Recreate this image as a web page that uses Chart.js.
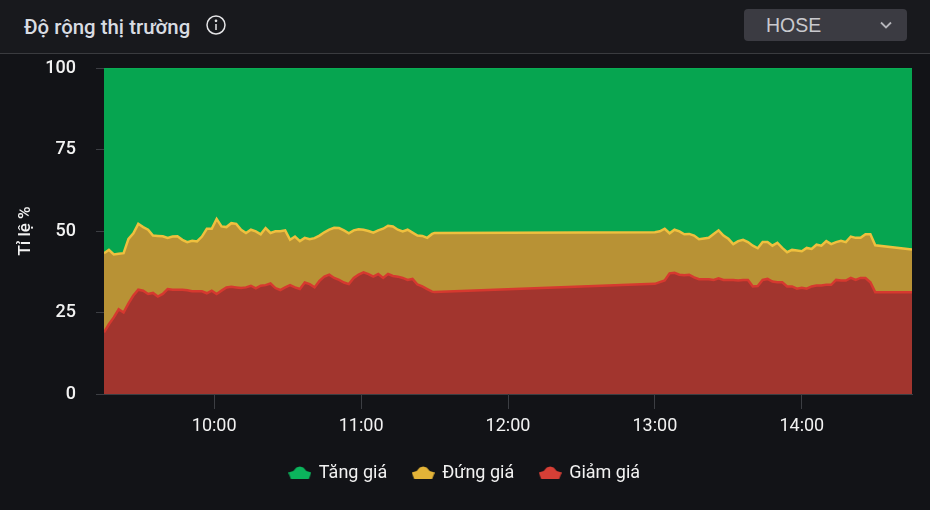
<!DOCTYPE html>
<html lang="vi">
<head>
<meta charset="utf-8">
<title>Độ rộng thị trường</title>
<script src="https://cdn.jsdelivr.net/npm/chart.js@4/dist/chart.umd.min.js"></script>
<style>
  html, body { margin: 0; padding: 0; background: #121317; overflow: hidden; }
  #wrap { position: relative; width: 930px; height: 510px; font-family: Roboto, sans-serif; }
  #head { position: absolute; left: 0; top: 0; width: 930px; height: 53px; background: #18191d; border-bottom: 1px solid #3a3b3f; }
  #title { position: absolute; left: 24px; top: 15px; font-size: 20.4px; font-weight: 500; line-height: 24px; color: #d8dce2; }
  #info { position: absolute; left: 205px; top: 14px; }
  #select { position: absolute; left: 744px; top: 9px; width: 163px; height: 32px; background: #3b3b42; border-radius: 4px; }
  #select span { position: absolute; left: 22px; top: 4px; font: 19.5px/24px "Liberation Sans", sans-serif; color: #c9c9ce; }
  #select svg { position: absolute; left: 135px; top: 12px; }
  #canvasBox { position: absolute; left: 0; top: 54px; width: 930px; height: 456px; }
</style>
</head>
<body>
<div id="wrap">
  <div id="head">
    <div id="title">Độ rộng thị trường</div>
    <svg id="info" width="22" height="22" viewBox="0 0 22 22" fill="none" stroke="#e4e4e6" stroke-width="1.5">
      <circle cx="11" cy="11" r="9"/>
      <path d="M11 10v6"/>
      <circle cx="11" cy="6.8" r="0.6" fill="#e4e4e6"/>
    </svg>
    <div id="select">
      <span>HOSE</span>
      <svg width="14" height="9" viewBox="0 0 14 9" fill="none" stroke="#b5b5ba" stroke-width="1.8"><path d="M2 1.5l5 5 5-5"/></svg>
    </div>
  </div>
  <div id="canvasBox"><canvas id="breadthChart"></canvas></div>
</div>
<script>
const times = [
  '09:15','09:17','09:19','09:21','09:23','09:25','09:27','09:29','09:31','09:33',
  '09:35','09:37','09:39','09:41','09:43','09:45','09:47','09:49','09:51','09:53',
  '09:55','09:57','09:59','10:01','10:03','10:05','10:07','10:09','10:11','10:13',
  '10:15','10:17','10:19','10:21','10:23','10:25','10:27','10:29','10:31','10:33',
  '10:35','10:37','10:39','10:41','10:43','10:45','10:47','10:49','10:51','10:53',
  '10:55','10:57','10:59','11:01','11:03','11:05','11:07','11:09','11:11','11:13',
  '11:15','11:17','11:19','11:21','11:23','11:25','11:27','11:29','11:30',
  '13:00','13:02','13:04','13:06','13:08','13:10','13:12','13:14','13:16','13:18',
  '13:20','13:22','13:24','13:26','13:28','13:30','13:32','13:34','13:36','13:38',
  '13:40','13:42','13:44','13:46','13:48','13:50','13:52','13:54','13:56','13:58',
  '14:00','14:02','14:04','14:06','14:08','14:10','14:12','14:14','14:16','14:18',
  '14:20','14:22','14:24','14:26','14:28','14:30','14:45'
];
const giamGia = [
  18.9,21.4,23.5,26.0,25.0,27.8,30.2,32.0,31.7,30.7,
  31.0,29.9,30.7,32.2,32.0,32.0,32.0,31.8,31.5,31.5,
  31.5,30.9,31.7,30.7,31.7,32.7,32.9,32.7,32.5,32.7,
  33.2,32.4,33.2,33.4,33.9,32.5,31.9,32.7,33.4,32.7,
  32.2,34.2,33.7,32.7,34.7,36.0,36.6,35.6,35.0,34.2,
  33.7,35.6,36.6,37.3,36.8,36.0,36.8,35.6,36.8,36.2,
  36.0,35.6,35.0,35.3,33.6,33.0,32.2,31.4,31.3,
  33.8,34.3,34.8,37.0,37.2,36.6,36.4,36.6,35.8,35.2,
  35.2,35.2,35.0,35.5,35.0,35.0,35.0,34.8,35.0,35.0,
  33.0,33.1,35.0,35.3,34.5,34.3,34.3,33.0,33.0,32.3,
  32.6,32.3,33.0,33.3,33.3,33.5,33.5,35.0,34.8,34.8,
  35.6,35.0,35.6,35.6,34.3,31.2,31.2
];
const dungGia = [
  24.3,22.8,19.3,17.0,18.2,19.8,19.1,20.2,19.5,19.7,
  17.6,18.6,17.7,15.7,16.3,16.4,15.3,14.8,15.5,15.3,
  16.8,19.8,19.0,23.0,19.7,18.5,19.5,19.5,17.9,16.7,
  17.2,17.5,15.8,17.5,15.5,17.4,18.0,17.5,13.9,15.6,
  14.7,13.7,13.8,15.1,13.9,13.6,13.8,15.4,15.9,16.0,
  15.6,14.6,13.9,13.1,13.2,13.5,13.4,15.1,14.8,15.2,
  14.4,14.3,15.4,14.2,15.0,15.5,15.7,17.7,18.1,
  15.8,15.6,15.9,12.3,13.2,13.3,12.6,12.5,12.8,12.3,
  12.5,12.7,14.1,14.7,13.6,12.6,11.0,12.1,12.3,11.6,
  12.5,11.6,11.6,11.3,11.0,12.1,10.5,10.5,11.2,11.7,
  11.2,12.5,11.5,12.5,12.2,13.4,12.5,11.6,12.2,11.8,
  12.7,12.9,12.3,13.4,14.7,14.4,13.1
];
const tangGia = [
  56.8,55.8,57.2,57.0,56.8,52.4,50.7,47.8,48.8,49.6,
  51.4,51.5,51.6,52.1,51.7,51.6,52.7,53.4,53.0,53.2,
  51.7,49.3,49.3,46.3,48.6,48.8,47.6,47.8,49.6,50.6,
  49.6,50.1,51.0,49.1,50.6,50.1,50.1,49.8,52.7,51.7,
  53.1,52.1,52.5,52.2,51.4,50.4,49.6,49.0,49.1,49.8,
  50.7,49.8,49.5,49.6,50.0,50.5,49.8,49.3,48.4,48.6,
  49.6,50.1,49.6,50.5,51.4,51.5,52.1,50.9,50.6,
  50.4,50.1,49.3,50.7,49.6,50.1,51.0,50.9,51.4,52.5,
  52.3,52.1,50.9,49.8,51.4,52.4,54.0,53.1,52.7,53.4,
  54.5,55.3,53.4,53.4,54.5,53.6,55.2,56.5,55.8,56.0,
  56.2,55.2,55.5,54.2,54.5,53.1,54.0,53.4,53.0,53.4,
  51.7,52.1,52.1,51.0,51.0,54.4,55.7
];
const xTickLabels = ['10:00', '11:00', '12:00', '13:00', '14:00'];
const yTicks = [0, 25, 50, 75, 100];

const toMinutes = (t) => {
  const [h, m] = t.split(':').map(Number);
  return h * 60 + m;
};
const toLabel = (v) => String(Math.floor(v / 60)).padStart(2, '0') + ':' + String(v % 60).padStart(2, '0');
const toPoints = (values) => values.map((y, i) => ({ x: toMinutes(times[i]), y }));

// legend marker: little house shape with wide eaves
function legendIcon(color) {
  const c = document.createElement('canvas');
  c.width = 23;
  c.height = 14;
  const g = c.getContext('2d');
  g.fillStyle = color;
  g.beginPath();
  g.moveTo(0, 6.5);
  g.lineTo(5, 5);
  g.lineTo(8, 1.5);
  g.lineTo(11.5, 0.5);
  g.lineTo(15, 1.5);
  g.lineTo(18, 5);
  g.lineTo(23, 6.5);
  g.lineTo(20.5, 13);
  g.lineTo(2.5, 13);
  g.closePath();
  g.fill();
  return c;
}

document.addEventListener('DOMContentLoaded', () => {
  Chart.defaults.font.family = "Roboto, sans-serif";
  Chart.defaults.color = '#f2f2f2';

  new Chart(document.getElementById('breadthChart'), {
    type: 'line',
    data: {
      datasets: [{
        label: 'Giảm giá',
        data: toPoints(giamGia),
        borderColor: '#d6392f',
        backgroundColor: '#a2352e',
        pointStyle: legendIcon('#d63f36'),
        fill: 'origin'
      }, {
        label: 'Đứng giá',
        data: toPoints(dungGia),
        borderColor: '#efc03e',
        backgroundColor: '#b89235',
        pointStyle: legendIcon('#e3b338'),
        fill: '-1'
      }, {
        label: 'Tăng giá',
        data: toPoints(tangGia),
        borderColor: '#09ad53',
        backgroundColor: '#06a550',
        pointStyle: legendIcon('#0bb45c'),
        fill: '-1'
      }]
    },
    options: {
      responsive: true,
      maintainAspectRatio: false,
      animation: false,
      events: [],
      layout: { padding: { left: 18, right: 18, top: 14, bottom: 18 } },
      elements: {
        line: { borderWidth: 2.5, tension: 0 },
        point: { radius: 0 }
      },
      scales: {
        x: {
          type: 'linear',
          min: toMinutes('09:15'),
          max: toMinutes('14:45'),
          afterBuildTicks: (axis) => {
            axis.ticks = xTickLabels.map((t) => ({ value: toMinutes(t) }));
          },
          afterFit: (axis) => { axis.height = 44; },
          grid: { drawOnChartArea: false, color: '#3c3e43', tickLength: 15, tickColor: '#3c3e43' },
          border: { color: '#3c3e43' },
          ticks: {
            autoSkip: false,
            maxRotation: 0,
            padding: 7,
            color: '#f2f2f2',
            font: { size: 18 },
            callback: (v) => toLabel(v)
          }
        },
        y: {
          stacked: true,
          min: 0,
          max: 100,
          afterBuildTicks: (axis) => {
            axis.ticks = yTicks.map((value) => ({ value }));
          },
          afterFit: (axis) => {
            axis.width = 86;
            // tick padding would otherwise push the plot area in
            axis.paddingTop = 0;
            axis.paddingBottom = 0;
          },
          grid: { drawOnChartArea: false, color: '#3c3e43', tickLength: 8, tickColor: '#3c3e43' },
          border: { display: false },
          title: {
            display: true,
            text: 'Tỉ lệ %',
            color: '#f2f2f2',
            font: { size: 17, weight: '500' },
            padding: { top: -2, bottom: 0 }
          },
          ticks: {
            padding: 20,
            color: '#f2f2f2',
            font: { size: 18, weight: '500' }
          }
        }
      },
      plugins: {
        tooltip: { enabled: false },
        legend: {
          position: 'bottom',
          reverse: true,
          labels: {
            usePointStyle: true,
            pointStyleWidth: 20,
            boxHeight: 14,
            padding: 26,
            color: '#f2f2f2',
            font: { size: 18 }
          }
        }
      }
    }
  });
});
</script>
</body>
</html>
